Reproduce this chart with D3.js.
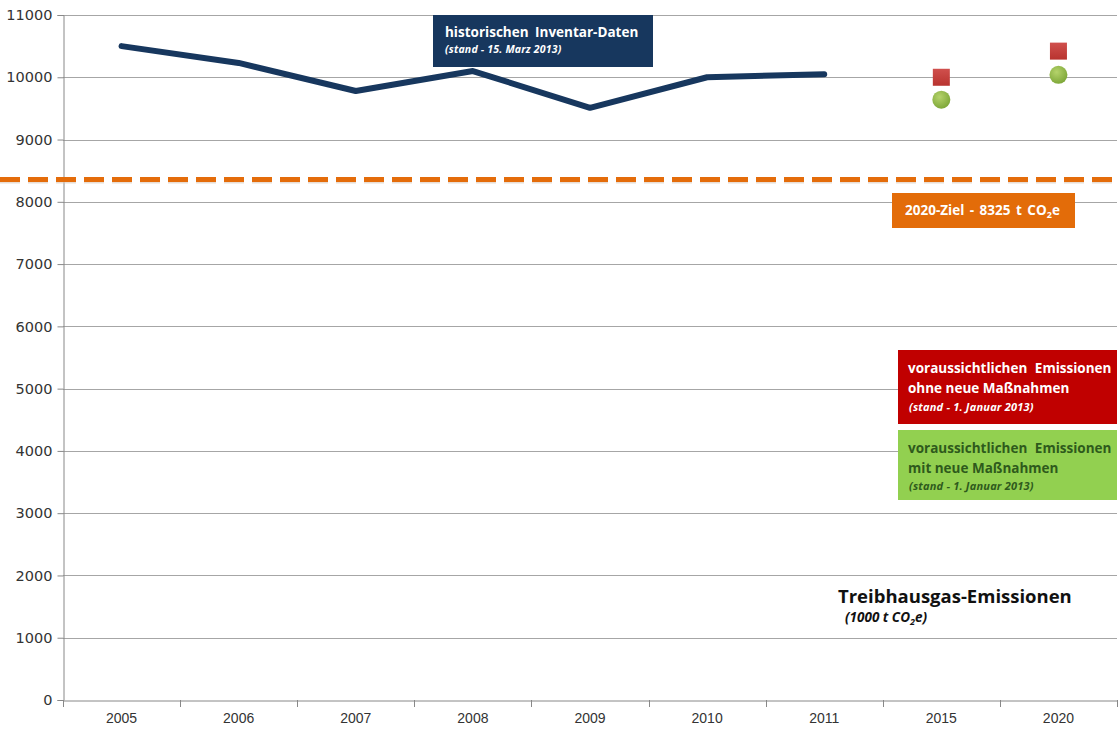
<!DOCTYPE html>
<html lang="de">
<head>
<meta charset="UTF-8">
<title>Treibhausgas-Emissionen</title>
<script src="https://d3js.org/d3.v7.min.js"></script>
<style>
body { margin: 0; background: #fff; }
.box text { font-family: "Open Sans", "Noto Sans", sans-serif; }
</style>
</head>
<body>
<div id="chart"></div>
<script>
// data
var years = ["2005", "2006", "2007", "2008", "2009", "2010", "2011", "2015", "2020"];
var histYears = ["2005", "2006", "2007", "2008", "2009", "2010", "2011"];
var histValues = [10500, 10230, 9780, 10100, 9510, 10000, 10050];
var projYears = ["2015", "2020"];
var ohneValues = [10000, 10420];
var mitValues = [9640, 10040];
var zielValue = 8360;
var yTicks = [0, 1000, 2000, 3000, 4000, 5000, 6000, 7000, 8000, 9000, 10000, 11000];

var W = 1120, H = 729;
var svg = d3.select("#chart").append("svg")
  .attr("width", W).attr("height", H);

var defs = svg.append("defs");
var rg = defs.append("radialGradient").attr("id", "gball").attr("cx", "40%").attr("cy", "35%").attr("r", "65%");
rg.append("stop").attr("offset", "0%").attr("stop-color", "#b5d36b");
rg.append("stop").attr("offset", "100%").attr("stop-color", "#7fa83a");
var lg = defs.append("linearGradient").attr("id", "rsq").attr("x1", 0).attr("y1", 0).attr("x2", 0).attr("y2", 1);
lg.append("stop").attr("offset", "0%").attr("stop-color", "#d0504d");
lg.append("stop").attr("offset", "100%").attr("stop-color", "#b8332f");

var x = d3.scaleBand().domain(years).range([63, 1117]);
var y = d3.scaleLinear().domain([0, 11000]).range([700, 15]);

// gridlines
svg.append("g").selectAll("line").data(yTicks.slice(1)).enter().append("line")
  .attr("x1", 63).attr("x2", 1117)
  .attr("y1", d => Math.round(y(d)) + 0.5).attr("y2", d => Math.round(y(d)) + 0.5)
  .attr("stroke", "#a6a6a6").attr("stroke-width", 1);

// y axis
var yAxis = svg.append("g").attr("transform", "translate(63.5,0)")
  .call(d3.axisLeft(y).tickValues(yTicks).tickSize(6).tickPadding(5).tickFormat(d3.format("d")));
yAxis.select(".domain").attr("stroke", "#888");
yAxis.selectAll(".tick line").attr("stroke", "#888");
yAxis.selectAll("text").attr("font-family", "DejaVu Sans, sans-serif").attr("font-size", 14.5).attr("fill", "#333");

// x axis
var xAxis = svg.append("g").attr("transform", "translate(0,700.5)")
  .call(d3.axisBottom(x).tickSize(0).tickPadding(13));
xAxis.select(".domain").attr("stroke", "#888");
xAxis.selectAll("text").attr("font-family", "Liberation Sans Narrow, Liberation Sans, sans-serif")
  .attr("font-size", 14).attr("fill", "#333");
svg.append("g").selectAll("line").data(years.concat(["end"])).enter().append("line")
  .attr("x1", (d, i) => Math.round(63 + i * x.bandwidth()) + 0.5)
  .attr("x2", (d, i) => Math.round(63 + i * x.bandwidth()) + 0.5)
  .attr("y1", 700).attr("y2", 707).attr("stroke", "#888");

// target line
svg.append("line")
  .attr("x1", 0).attr("x2", 1112)
  .attr("y1", y(zielValue) + 2).attr("y2", y(zielValue) + 2)
  .attr("stroke", "#d9c7b8").attr("stroke-width", 4).attr("stroke-dasharray", "20,8").attr("opacity", 0.6);
svg.append("line")
  .attr("x1", 0).attr("x2", 1112)
  .attr("y1", y(zielValue)).attr("y2", y(zielValue))
  .attr("stroke", "#e46c0a").attr("stroke-width", 5).attr("stroke-dasharray", "20,8");

// historical line
var line = d3.line()
  .x((d, i) => x(histYears[i]) + x.bandwidth() / 2)
  .y(d => y(d));
svg.append("path").datum(histValues)
  .attr("d", line).attr("fill", "none")
  .attr("stroke", "#17375e").attr("stroke-width", 6).attr("stroke-linejoin", "round").attr("stroke-linecap", "round");

// projections
svg.append("g").selectAll("rect").data(ohneValues).enter().append("rect")
  .attr("x", (d, i) => x(projYears[i]) + x.bandwidth() / 2 - 8.5)
  .attr("y", d => y(d) - 8.5)
  .attr("width", 17).attr("height", 17)
  .attr("fill", "url(#rsq)");
svg.append("g").selectAll("circle").data(mitValues).enter().append("circle")
  .attr("cx", (d, i) => x(projYears[i]) + x.bandwidth() / 2)
  .attr("cy", d => y(d))
  .attr("r", 9)
  .attr("fill", "url(#gball)");

// labels
var boxes = svg.append("g").attr("class", "box");

var b1 = boxes.append("g");
b1.append("rect").attr("x", 433).attr("y", 15).attr("width", 220).attr("height", 52).attr("fill", "#17375e");
b1.append("text").attr("x", 445).attr("y", 37).attr("fill", "#fff").attr("font-size", 13.5).attr("font-weight", "bold").attr("word-spacing", 3).text("historischen Inventar-Daten");
b1.append("text").attr("x", 445).attr("y", 53).attr("fill", "#fff").attr("font-size", 10.5).attr("font-style", "italic").attr("font-weight", "bold").attr("letter-spacing", 0.2).text("(stand - 15. Marz 2013)");

var b2 = boxes.append("g");
b2.append("rect").attr("x", 892).attr("y", 193).attr("width", 183).attr("height", 35).attr("fill", "#e36c09");
var t2 = b2.append("text").attr("x", 905).attr("y", 215).attr("fill", "#fff").attr("font-size", 13.5).attr("font-weight", "bold").attr("word-spacing", 2);
t2.append("tspan").text("2020-Ziel - 8325 t CO");
t2.append("tspan").attr("font-size", 9).attr("dy", 3).text("2");
t2.append("tspan").attr("dy", -3).text("e");

var b3 = boxes.append("g");
b3.append("rect").attr("x", 898).attr("y", 350).attr("width", 219).attr("height", 74).attr("fill", "#c00000");
b3.append("text").attr("x", 908).attr("y", 373).attr("fill", "#fff").attr("font-size", 13.5).attr("font-weight", "bold").attr("word-spacing", 4).text("voraussichtlichen Emissionen");
b3.append("text").attr("x", 908).attr("y", 393).attr("fill", "#fff").attr("font-size", 13.5).attr("font-weight", "bold").text("ohne neue Maßnahmen");
b3.append("text").attr("x", 909).attr("y", 411).attr("fill", "#fff").attr("font-size", 11).attr("font-style", "italic").attr("font-weight", "bold").attr("letter-spacing", 0.2).text("(stand - 1. Januar 2013)");

var b4 = boxes.append("g");
b4.append("rect").attr("x", 898).attr("y", 430).attr("width", 219).attr("height", 70).attr("fill", "#92d050");
b4.append("text").attr("x", 908).attr("y", 453).attr("fill", "#2e5a1c").attr("font-size", 13.5).attr("font-weight", "bold").attr("word-spacing", 4).text("voraussichtlichen Emissionen");
b4.append("text").attr("x", 908).attr("y", 473).attr("fill", "#2e5a1c").attr("font-size", 13.5).attr("font-weight", "bold").text("mit neue Maßnahmen");
b4.append("text").attr("x", 909).attr("y", 490).attr("fill", "#2e5a1c").attr("font-size", 11).attr("font-style", "italic").attr("font-weight", "bold").attr("letter-spacing", 0.2).text("(stand - 1. Januar 2013)");

// title
var tt = svg.append("g").attr("class", "box");
tt.append("text").attr("x", 838).attr("y", 603).attr("fill", "#111").attr("font-size", 18.5).attr("font-weight", "bold").text("Treibhausgas-Emissionen");
var sub = tt.append("text").attr("x", 845).attr("y", 622).attr("fill", "#111").attr("font-size", 13.5).attr("font-weight", "bold").attr("font-style", "italic");
sub.append("tspan").text("(1000 t CO");
sub.append("tspan").attr("font-size", 9).attr("dy", 3).text("2");
sub.append("tspan").attr("dy", -3).text("e)");
</script>
</body>
</html>
